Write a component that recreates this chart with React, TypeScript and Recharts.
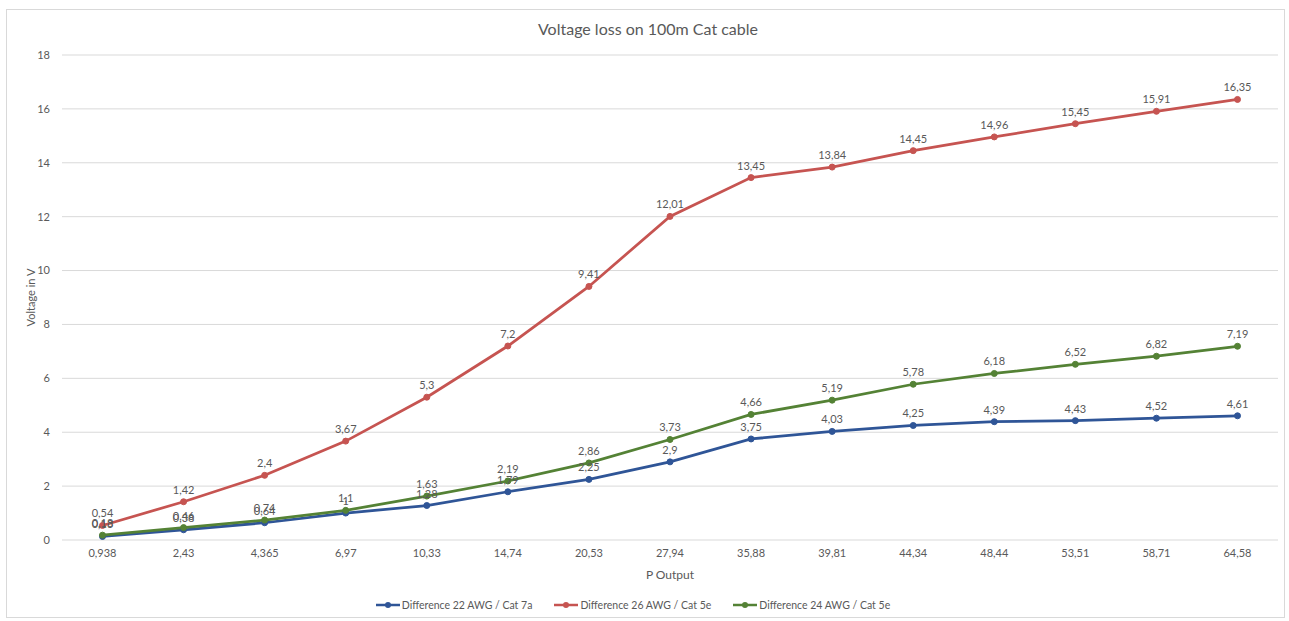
import React from 'react';
import { LineChart, Line, XAxis, YAxis, CartesianGrid, Legend, LabelList } from 'recharts';

const categories = ['0,938', '2,43', '4,365', '6,97', '10,33', '14,74', '20,53', '27,94', '35,88', '39,81', '44,34', '48,44', '53,51', '58,71', '64,58'];
const awg22Cat7a = [0.13, 0.38, 0.64, 1, 1.28, 1.79, 2.25, 2.9, 3.75, 4.03, 4.25, 4.39, 4.43, 4.52, 4.61];
const awg26Cat5e = [0.54, 1.42, 2.4, 3.67, 5.3, 7.2, 9.41, 12.01, 13.45, 13.84, 14.45, 14.96, 15.45, 15.91, 16.35];
const awg24Cat5e = [0.18, 0.46, 0.74, 1.1, 1.63, 2.19, 2.86, 3.73, 4.66, 5.19, 5.78, 6.18, 6.52, 6.82, 7.19];
const yTicks = [0, 2, 4, 6, 8, 10, 12, 14, 16, 18];

const series = [
  { key: 'a22', name: 'Difference 22 AWG / Cat 7a', color: '#2F5597' },
  { key: 'a26', name: 'Difference 26 AWG / Cat 5e', color: '#C65451' },
  { key: 'a24', name: 'Difference 24 AWG / Cat 5e', color: '#548235' },
];

const data = categories.map((c, i) => ({
  x: c,
  a22: awg22Cat7a[i],
  a26: awg26Cat5e[i],
  a24: awg24Cat5e[i],
}));

const FONT = 'Lato, "Open Sans", sans-serif';
const GRAY = '#595959';

const fmt = (v: any) => String(v).replace('.', ',');

const LegendContent = () => (
  <div style={{ display: 'flex', justifyContent: 'center', gap: 22, height: 20, alignItems: 'center', paddingRight: 12, fontFamily: FONT, fontSize: 10.5, color: GRAY }}>
    {series.map((s) => (
      <div key={s.key} style={{ display: 'flex', alignItems: 'center' }}>
        <svg width={24} height={10} style={{ marginRight: 2 }}>
          <line x1={0} y1={5} x2={24} y2={5} stroke={s.color} strokeWidth={2.5} />
          <circle cx={12} cy={5} r={3} fill={s.color} />
        </svg>
        <span>{s.name}</span>
      </div>
    ))}
  </div>
);

export default function App() {
  return (
    <div style={{ position: 'absolute', left: 0, top: 0, width: 1289, height: 621, background: '#fff' }}>
      <div style={{ position: 'absolute', left: 6, top: 9, width: 1279, height: 609, border: '1px solid #d9d9d9', boxSizing: 'border-box' }} />
      <div style={{ position: 'absolute', left: 0, top: 19, width: 1296, textAlign: 'center', fontFamily: FONT, fontSize: 16, color: GRAY }}>
        Voltage loss on 100m Cat cable
      </div>
      <LineChart width={1289} height={621} data={data} margin={{ top: 55, right: 11, bottom: 6, left: 0 }} style={{ position: 'absolute', left: 0, top: 0 }}>
        <CartesianGrid vertical={false} stroke="#d9d9d9" />
        <XAxis
          dataKey="x"
          height={55}
          padding={{ left: 40.5, right: 40.5 }}
          axisLine={false}
          tickLine={false}
          tickSize={0}
          tickMargin={9}
          interval={0}
          tick={{ fontSize: 11, fill: GRAY, fontFamily: FONT }}
          label={{ value: 'P Output', position: 'insideBottom', offset: 16, fontSize: 12, fill: GRAY, fontFamily: FONT }}
        />
        <YAxis
          width={62}
          domain={[0, 18]}
          ticks={yTicks}
          axisLine={false}
          tickLine={false}
          tickSize={0}
          tickMargin={12}
          tick={{ fontSize: 11, fill: GRAY, fontFamily: FONT }}
          label={{ value: 'Voltage in V', angle: -90, position: 'center', fontSize: 11, fill: GRAY, fontFamily: FONT }}
        />
        <Legend verticalAlign="bottom" height={20} content={<LegendContent />} />
        {series.map((s) => (
          <Line
            key={s.key}
            type="linear"
            dataKey={s.key}
            name={s.name}
            stroke={s.color}
            strokeWidth={2.75}
            dot={{ r: 3, fill: s.color, stroke: s.color, strokeWidth: 1 }}
            activeDot={false}
            isAnimationActive={false}
          >
            <LabelList dataKey={s.key} position="top" offset={8} formatter={fmt} style={{ fontSize: 11, fill: GRAY, fontFamily: FONT }} />
          </Line>
        ))}
      </LineChart>
    </div>
  );
}
